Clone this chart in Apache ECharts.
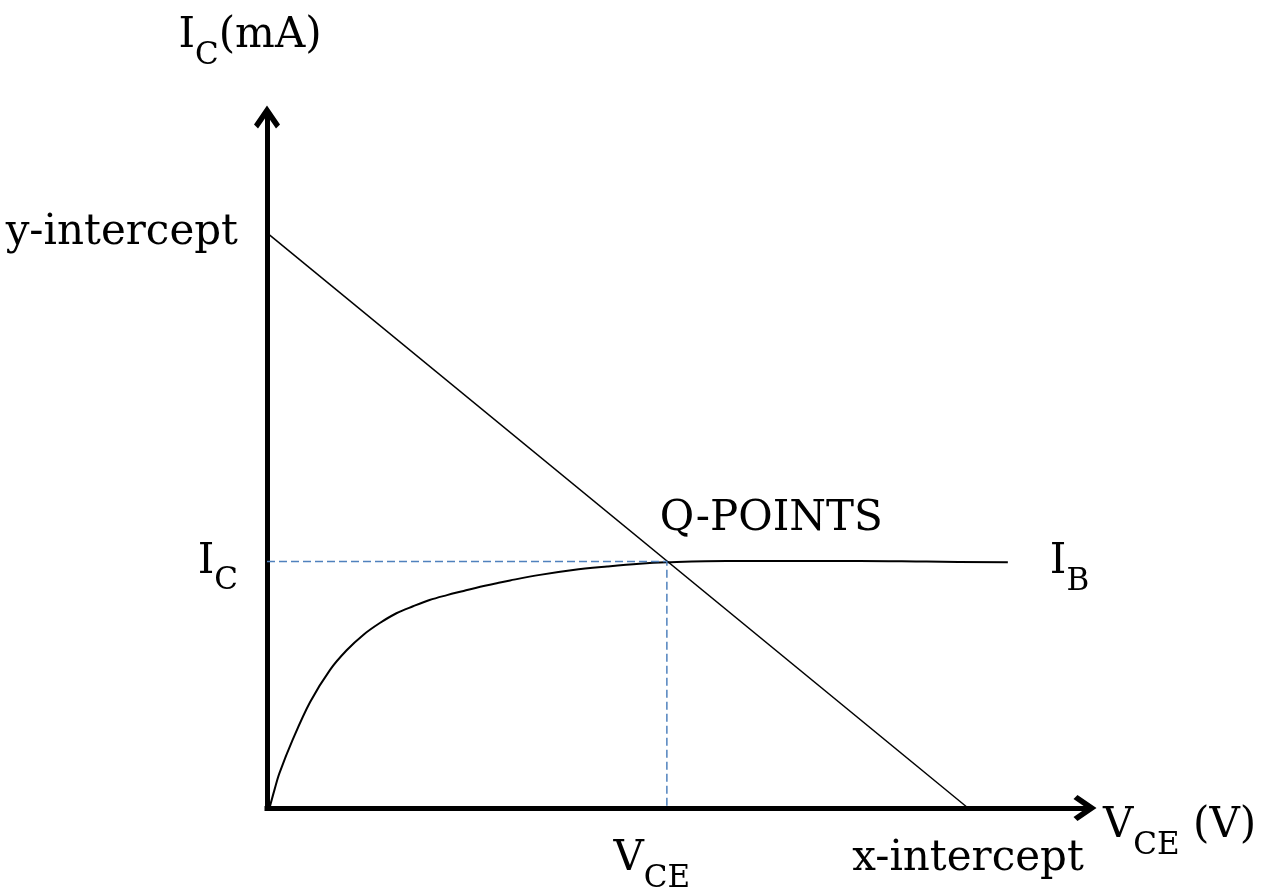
<!DOCTYPE html>
<html>
<head>
<meta charset="utf-8">
<script src="https://cdn.jsdelivr.net/npm/echarts@6/dist/echarts.min.js"></script>
<style>
  html, body { margin: 0; padding: 0; background: #fff; }
  #chart { width: 1272px; height: 889px; }
</style>
</head>
<body>
<div id="chart"></div>
<script>
// load line end points (x-intercept / y-intercept)
const loadLineX = [0, 84.5]
const loadLineY = [82.4, 0]

// I_B characteristic curve
const curveX = [0.3, 0.9, 1.5, 3.1, 5.2, 7.6, 9.6, 11.6, 13.6, 15.6, 17.6, 19.6, 21.7, 23.7, 25.7, 27.7, 29.3, 32.9, 36.9, 41.0, 44.9, 48.2, 55.4, 63.4, 71.4, 79.5, 89.3]
const curveY = [0, 2.6, 5.0, 9.8, 15.2, 19.8, 22.6, 24.8, 26.5, 27.9, 28.9, 29.8, 30.5, 31.1, 31.7, 32.2, 32.6, 33.4, 34.1, 34.6, 35.0, 35.2, 35.4, 35.4, 35.4, 35.3, 35.2]

// operating point
const qPoint = [48.2, 35.3]

// axis tick labels
const xTicks = [48.2, 84.5]
const xTickLabels = ['{m|V}{s|CE}{p|}', '{m|x-intercept}']
const yTicks = [82.4, 35.3]
const yTickLabels = ['{m|y-intercept}', '{m|I}{s|C}']

const FONT = '"DejaVu Serif", "Liberation Serif", serif'
const rich = {
  m: { fontSize: 42, fontFamily: FONT, color: '#000', lineHeight: 70 },
  s: { fontSize: 31, fontFamily: FONT, color: '#000', verticalAlign: 'bottom' },
  p: { width: 30 }
}
// open chevron arrow head, pointing up
const arrowHead = 'path://M13 0 L26 19 L22 23 L13 10 L4 23 L0 19 Z'

const chart = echarts.init(document.getElementById('chart'))
chart.setOption({
  animation: false,
  backgroundColor: '#fff',
  grid: { left: 267, right: 187, top: 117, bottom: 81, containLabel: false, outerBoundsMode: 'none' },
  xAxis: {
    type: 'value',
    min: 0,
    max: 98.6,
    splitLine: { show: false },
    axisTick: { show: false },
    axisLine: {
      lineStyle: { color: '#000', width: 5, cap: 'square' },
      symbol: ['none', arrowHead],
      symbolSize: [26, 24]
    },
    axisLabel: {
      customValues: xTicks,
      margin: 16,
      color: '#000',
      rich: rich,
      formatter: v => xTickLabels[xTicks.indexOf(v)] || ''
    },
    name: '{m|V}{s|CE}{m| (V)}',
    nameLocation: 'end',
    nameGap: 18,
    nameTextStyle: { rich: rich, padding: [36, 0, 0, 0] }
  },
  yAxis: {
    type: 'value',
    min: 0,
    max: 99,
    splitLine: { show: false },
    axisTick: { show: false },
    axisLine: {
      lineStyle: { color: '#000', width: 5, cap: 'square' },
      symbol: ['none', arrowHead],
      symbolSize: [26, 24]
    },
    axisLabel: {
      customValues: yTicks,
      margin: 29,
      color: '#000',
      rich: rich,
      formatter: v => yTickLabels[yTicks.indexOf(v)] || ''
    },
    name: '{m|I}{s|C}{m|(mA)}',
    nameLocation: 'end',
    nameGap: 46,
    nameTextStyle: { rich: rich, padding: [0, 34, 0, 0] }
  },
  series: [
    {
      name: 'load line',
      type: 'line',
      symbol: 'none',
      lineStyle: { color: '#000', width: 1.5 },
      data: loadLineX.map((x, i) => [x, loadLineY[i]])
    },
    {
      name: 'IB',
      type: 'line',
      symbol: 'none',
      smooth: 0.35,
      lineStyle: { color: '#000', width: 2 },
      data: curveX.map((x, i) => [x, curveY[i]]),
      endLabel: {
        show: true,
        distance: 42,
        formatter: '{m|I}{s|B}',
        rich: rich
      }
    },
    {
      name: 'guides',
      type: 'line',
      symbol: 'none',
      lineStyle: { color: '#4F81BD', width: 1.5, type: [8, 4] },
      data: [[0, qPoint[1]], qPoint, [qPoint[0], 0]]
    },
    {
      name: 'Q',
      type: 'scatter',
      symbolSize: 0,
      itemStyle: { opacity: 1 },
      data: [qPoint],
      label: {
        show: true,
        position: 'top',
        distance: 0,
        align: 'left',
        verticalAlign: 'bottom',
        offset: [-7, -22],
        fontSize: 42,
        fontFamily: FONT,
        color: '#000',
        formatter: 'Q-POINTS'
      }
    }
  ]
})
</script>
</body>
</html>
